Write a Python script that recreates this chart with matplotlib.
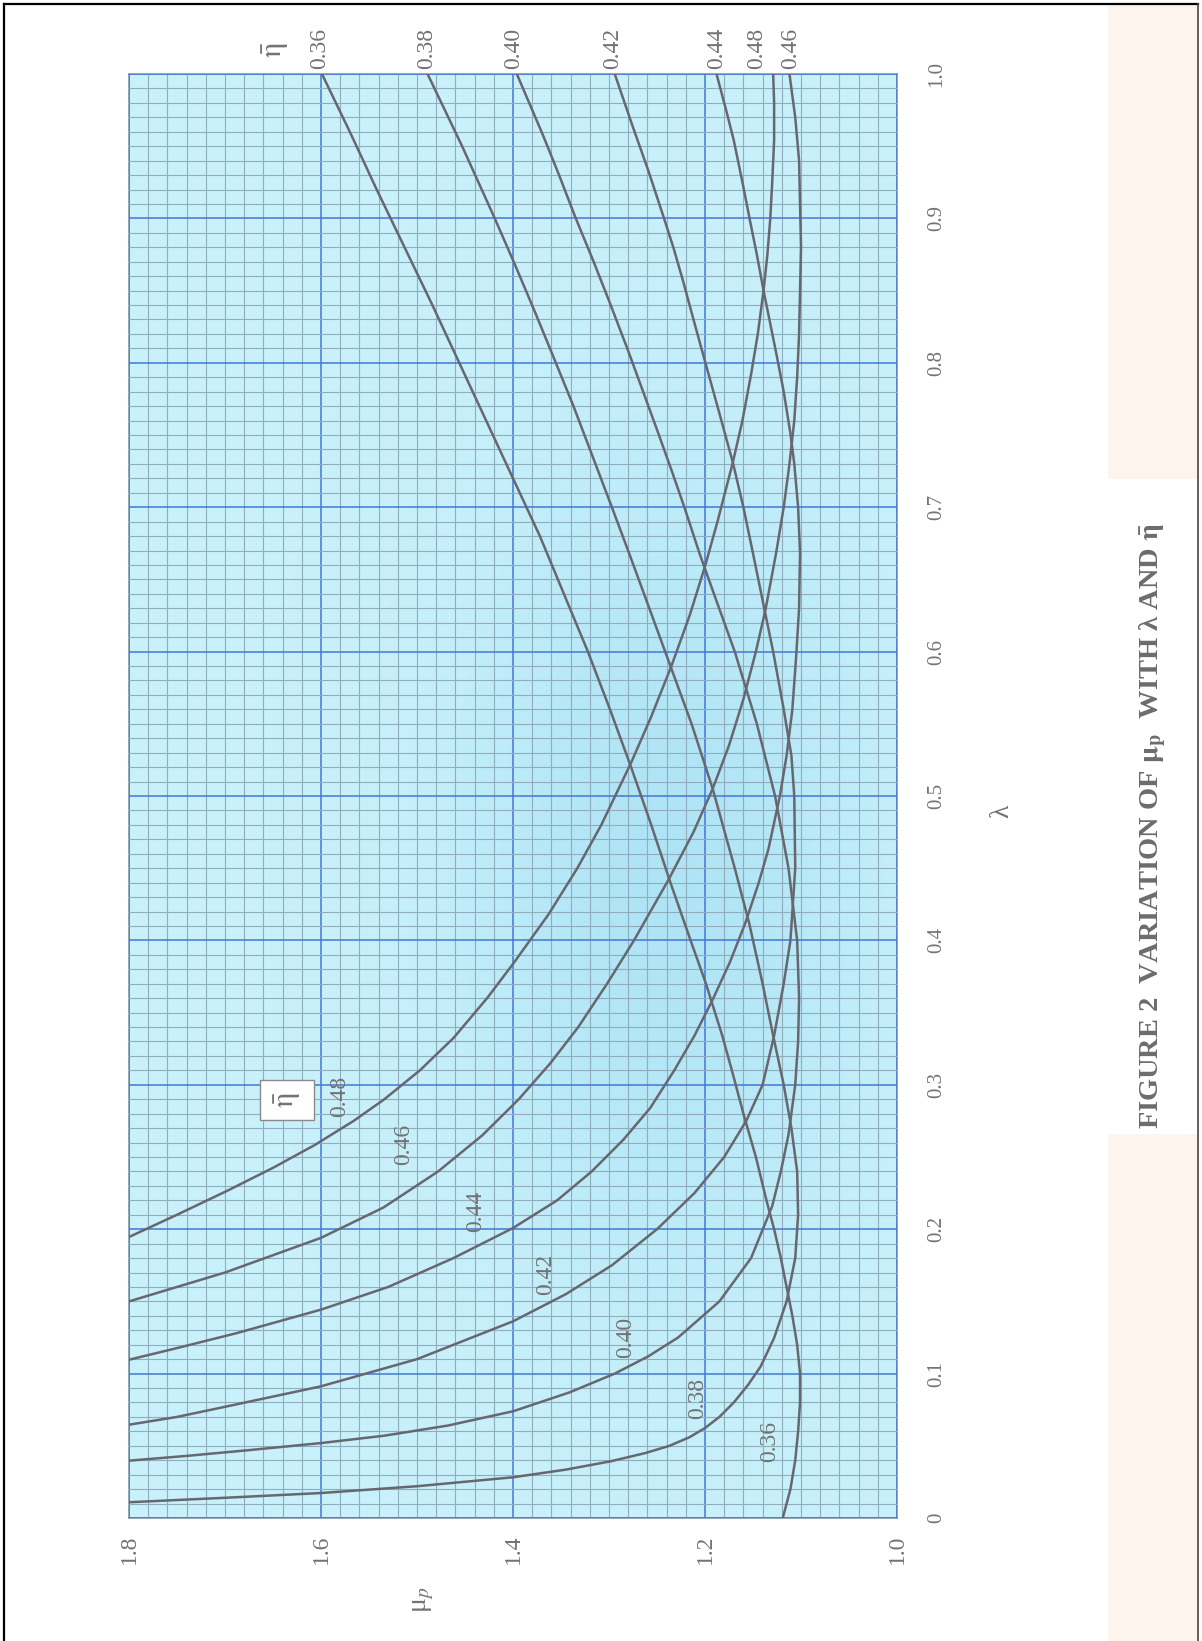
import numpy as np
import matplotlib
matplotlib.use("Agg")
import matplotlib.pyplot as plt
from matplotlib.patches import Rectangle
from matplotlib.ticker import MultipleLocator

# ---- data: mu_p against lambda for each eta-bar ----
eta_values = ["0.36", "0.38", "0.40", "0.42", "0.44", "0.46", "0.48"]

lam_036 = [0.000, 0.020, 0.040, 0.060, 0.080, 0.100, 0.120, 0.140, 0.160, 0.180, 0.200, 0.220, 0.250,
           0.280, 0.310, 0.334, 0.370, 0.400, 0.440, 0.480, 0.520, 0.560, 0.600, 0.640, 0.680, 0.720,
           0.760, 0.800, 0.840, 0.880, 0.920, 0.960, 1.000]
mu_036 = [1.119, 1.111, 1.106, 1.103, 1.101, 1.101, 1.104, 1.109, 1.115, 1.121, 1.128, 1.136, 1.147,
          1.160, 1.172, 1.182, 1.199, 1.215, 1.236, 1.256, 1.277, 1.299, 1.322, 1.347, 1.372, 1.400,
          1.428, 1.456, 1.484, 1.513, 1.542, 1.570, 1.599]

lam_038 = [0.0109, 0.0140, 0.0173, 0.0220, 0.0282, 0.0335, 0.0393, 0.045, 0.050, 0.056, 0.0623, 0.070,
           0.080, 0.0923, 0.105, 0.1247, 0.150, 0.180, 0.210, 0.240, 0.270, 0.300, 0.334, 0.370, 0.412,
           0.450, 0.505, 0.550, 0.590, 0.630, 0.668, 0.700, 0.735, 0.770, 0.801, 0.835, 0.868, 0.900,
           0.950, 1.000]
mu_038 = [1.800, 1.700, 1.600, 1.500, 1.400, 1.345, 1.298, 1.262, 1.237, 1.216, 1.200, 1.185,
          1.170, 1.155, 1.142, 1.128, 1.115, 1.106, 1.103, 1.104, 1.110, 1.118, 1.129, 1.140, 1.154,
          1.169, 1.192, 1.214, 1.236, 1.258, 1.279, 1.297, 1.317, 1.337, 1.356, 1.377, 1.398, 1.419,
          1.453, 1.489]

lam_040 = [0.0397, 0.043, 0.047, 0.0519, 0.057, 0.064, 0.0739, 0.087, 0.100, 0.112, 0.125, 0.150, 0.180,
           0.216, 0.240, 0.2655, 0.300, 0.330, 0.360, 0.400, 0.450, 0.500, 0.550, 0.600, 0.635, 0.6676,
           0.700, 0.723, 0.750, 0.781, 0.810, 0.843, 0.870, 0.9007, 0.930, 0.958, 1.000]
mu_040 = [1.800, 1.740, 1.675, 1.600, 1.534, 1.468, 1.400, 1.341, 1.294, 1.259, 1.228, 1.185, 1.152,
          1.130, 1.121, 1.113, 1.106, 1.103, 1.102, 1.104, 1.113, 1.127, 1.146, 1.169, 1.188, 1.2055,
          1.2215, 1.2335, 1.248, 1.265, 1.281, 1.300, 1.316, 1.335, 1.352, 1.369, 1.396]

lam_042 = [0.0646, 0.070, 0.077, 0.0912, 0.110, 0.1362, 0.155, 0.175, 0.200, 0.225, 0.250, 0.275, 0.300,
           0.334, 0.370, 0.400, 0.450, 0.500, 0.528, 0.560, 0.600, 0.629, 0.668, 0.700, 0.731, 0.765,
           0.801, 0.830, 0.857, 0.880, 0.9007, 0.933, 0.965, 1.000]
mu_042 = [1.800, 1.750, 1.700, 1.600, 1.500, 1.400, 1.345, 1.297, 1.250, 1.211, 1.180, 1.157, 1.140,
          1.128, 1.118, 1.111, 1.106, 1.107, 1.110, 1.118, 1.129, 1.138, 1.150, 1.160, 1.171, 1.185,
          1.200, 1.212, 1.223, 1.233, 1.243, 1.259, 1.276, 1.294]

lam_044 = [0.1096, 0.118, 0.128, 0.1443, 0.160, 0.180, 0.2008, 0.220, 0.240, 0.262, 0.284, 0.310, 0.334,
           0.359, 0.385, 0.412, 0.440, 0.463, 0.500, 0.528, 0.560, 0.597, 0.630, 0.668, 0.700, 0.730,
           0.751, 0.780, 0.804, 0.827, 0.850, 0.875, 0.898, 0.925, 0.954, 0.975, 1.000]
mu_044 = [1.800, 1.748, 1.688, 1.600, 1.530, 1.462, 1.400, 1.354, 1.318, 1.285, 1.257, 1.232, 1.211,
          1.192, 1.174, 1.158, 1.144, 1.134, 1.122, 1.115, 1.109, 1.105, 1.102, 1.101, 1.103, 1.107,
          1.111, 1.118, 1.125, 1.132, 1.139, 1.146, 1.153, 1.161, 1.170, 1.178, 1.188]

lam_046 = [0.150, 0.170, 0.194, 0.215, 0.240, 0.265, 0.290, 0.315, 0.340, 0.370, 0.400, 0.442, 0.475,
           0.505, 0.535, 0.567, 0.600, 0.629, 0.668, 0.700, 0.730, 0.760, 0.790, 0.820, 0.850, 0.880,
           0.910, 0.940, 0.970, 1.000]
mu_046 = [1.800, 1.700, 1.600, 1.535, 1.478, 1.432, 1.394, 1.361, 1.332, 1.302, 1.274, 1.238, 1.212,
          1.192, 1.175, 1.160, 1.147, 1.137, 1.126, 1.118, 1.112, 1.107, 1.104, 1.102, 1.101, 1.100,
          1.101, 1.102, 1.106, 1.112]

lam_048 = [0.1946, 0.210, 0.2265, 0.2425, 0.2585, 0.275, 0.290, 0.310, 0.3324, 0.360, 0.3846, 0.418,
           0.450, 0.480, 0.523, 0.555, 0.590, 0.625, 0.659, 0.690, 0.731, 0.760, 0.792, 0.820, 0.850,
           0.875, 0.900, 0.925, 0.954, 0.980, 1.000]
mu_048 = [1.800, 1.750, 1.698, 1.650, 1.606, 1.566, 1.534, 1.497, 1.462, 1.427, 1.399, 1.363,
          1.333, 1.308, 1.277, 1.256, 1.235, 1.216, 1.200, 1.187, 1.171, 1.161, 1.152, 1.145, 1.139,
          1.135, 1.132, 1.130, 1.128, 1.128, 1.129]

curves = [
    (lam_036, mu_036), (lam_038, mu_038), (lam_040, mu_040), (lam_042, mu_042),
    (lam_044, mu_044), (lam_046, mu_046), (lam_048, mu_048),
]

# curve labels inside the grid: (text, mu_p, lambda)
inner_labels = [("0.48", 1.581, 0.292), ("0.46", 1.5135, 0.259), ("0.44", 1.4385, 0.2126),
                ("0.42", 1.3656, 0.1684), ("0.40", 1.2823, 0.1247), ("0.38", 1.2073, 0.0831),
                ("0.36", 1.1323, 0.0533)]
# curve labels above the top edge: (text, mu_p)
top_labels = [("0.36", 1.601), ("0.38", 1.4896), ("0.40", 1.399), ("0.42", 1.2958),
              ("0.44", 1.1875), ("0.48", 1.1458), ("0.46", 1.1104)]

mu_ticks = [1.8, 1.6, 1.4, 1.2, 1.0]
mu_ticklabels = ["1.8", "1.6", "1.4", "1.2", "1.0"]
lam_ticks = [0.0, 0.1, 0.2, 0.3, 0.4, 0.5, 0.6, 0.7, 0.8, 0.9, 1.0]
lam_ticklabels = ["0", "0.1", "0.2", "0.3", "0.4", "0.5", "0.6", "0.7", "0.8", "0.9", "1.0"]

# ---- styling ----
plt.rcParams['font.family'] = ['Liberation Serif', 'DejaVu Serif']
plt.rcParams['mathtext.fontset'] = 'stix'
TXT = '#737373'
CURVE = '#67676f'

W, H = 1202, 1641
fig = plt.figure(figsize=(W / 100, H / 100), dpi=100)
fig.patch.set_facecolor('white')

# page furniture drawn in pixel coordinates
page = fig.add_axes([0, 0, 1, 1])
page.set_xlim(0, W)
page.set_ylim(H, 0)
page.axis('off')
page.add_patch(Rectangle((1108, 5), 90, 474, color='#fdf4ee', lw=0))
page.add_patch(Rectangle((1108, 1134), 90, 507, color='#fdf4ee', lw=0))
page.plot([4, 4], [4, H], color='black', lw=1.6)
page.plot([4, 1198], [4, 4], color='black', lw=1.6)
page.plot([1198, 1198], [4, H], color='#444444', lw=1.2)

# chart area (mu_p runs horizontally, lambda vertically)
ax = fig.add_axes([129 / W, 1 - 1518 / H, 768 / W, 1444 / H])
ax.set_facecolor('#c9f1fb')
ax.set_xlim(1.8, 1.0)
ax.set_ylim(0.0, 1.0)

# faint darker haze toward the middle of the sheet
gx, gy = np.meshgrid(np.linspace(1.8, 1.0, 200), np.linspace(0, 1, 300))
haze = np.exp(-(((gx - 1.24) / 0.20) ** 2 + ((gy - 0.45) / 0.28) ** 2))
rgba = np.zeros(haze.shape + (4,))
rgba[..., 0] = 0.45
rgba[..., 1] = 0.78
rgba[..., 2] = 0.92
rgba[..., 3] = 0.30 * haze
ax.imshow(rgba, extent=(1.8, 1.0, 0.0, 1.0), origin='lower', aspect='auto', zorder=0.5,
          interpolation='bilinear')

ax.xaxis.set_minor_locator(MultipleLocator(0.02))
ax.yaxis.set_minor_locator(MultipleLocator(0.01))
ax.set_xticks(mu_ticks)
ax.set_yticks(lam_ticks)
ax.grid(which='minor', color='#8fadba', lw=0.8, zorder=1)
ax.grid(which='major', color='#4377d6', lw=1.1, zorder=1.5)
ax.set_axisbelow(False)
ax.tick_params(which='both', length=0)
ax.set_xticklabels(mu_ticklabels, rotation=90, fontsize=17, color=TXT)
ax.tick_params(axis='x', pad=12)
ax.yaxis.tick_right()
ax.set_yticklabels(lam_ticklabels, rotation=90, fontsize=15, color=TXT, va='center')
ax.tick_params(axis='y', pad=22)
for s in ax.spines.values():
    s.set_color('#7d98a8')
    s.set_linewidth(1.2)

for lam, mu in curves:
    ax.plot(mu, lam, color=CURVE, lw=1.8, zorder=3, solid_capstyle='round',
            solid_joinstyle='round')

for txt, m, l in inner_labels:
    ax.text(m, l, txt, rotation=90, ha='center', va='center', fontsize=17, color=TXT, zorder=4)
for txt, m in top_labels:
    ax.text(m, 1.018, txt, rotation=90, ha='center', va='center', fontsize=17, color=TXT,
            clip_on=False)
ax.text(1.647, 1.017, r'$\bar{\mathrm{\eta}}$', rotation=90, ha='center', va='center', fontsize=22,
        color=TXT, clip_on=False)
ax.text(1.635, 0.2895, r'$\bar{\mathrm{\eta}}$', rotation=90, ha='center', va='center', fontsize=22,
        color=TXT, zorder=5,
        bbox=dict(boxstyle='square,pad=0.38', fc='white', ec='#8a8a8a', lw=1.0))

fig.text(1002 / W, 1 - 811 / H, 'λ', rotation=90, ha='center', va='center',
         fontsize=20, color=TXT)
fig.text(424 / W, 1 - 1600 / H, r'μ$_p$', rotation=90, ha='center', va='center',
         fontsize=20, color=TXT)
fig.text(1153 / W, 1 - 826 / H,
         r'FIGURE 2  VARIATION OF $\mathbf{\mu_p}$  WITH λ AND $\bar{\mathbf{\eta}}$',
         rotation=90, ha='center', va='center', fontsize=20.5, fontweight='bold', color='#6c6c6c')

fig.savefig('out.png', dpi=100, facecolor='white')
